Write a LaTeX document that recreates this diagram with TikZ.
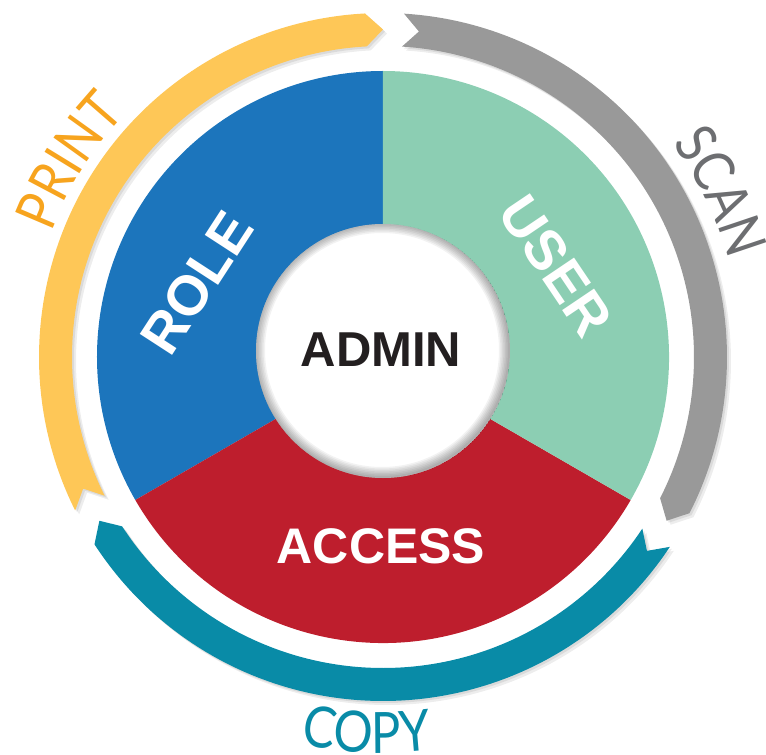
\documentclass[tikz,border=0pt]{standalone}
\usepackage{fontspec}
\setmainfont{Liberation Sans}
\IfFontExistsTF{Lato}
  {\newfontfamily\thinfont[FakeStretch=0.86]{Lato}}
  {\newfontfamily\thinfont[FakeStretch=0.82]{Liberation Sans}}
\usetikzlibrary{decorations.text}

\definecolor{roleblue}{RGB}{28,117,188}
\definecolor{usergreen}{RGB}{140,206,179}
\definecolor{accessred}{RGB}{190,30,45}
\definecolor{printyellow}{RGB}{254,199,87}
\definecolor{printorange}{RGB}{247,164,30}
\definecolor{scangray}{RGB}{153,153,153}
\definecolor{scantext}{RGB}{109,110,113}
\definecolor{copyteal}{RGB}{9,139,167}
\definecolor{admintext}{RGB}{35,31,32}

% ring arrow: options, tail angle, tip angle (clockwise)
\newcommand{\ringarrow}[3]{%
  \pgfmathsetmacro\headang{#3+3}%
  \pgfmathsetmacro\notchang{#2-2.8}%
  \fill[#1] (#2:344) arc[start angle=#2, end angle=\headang, radius=344]
    -- (#3:327.5) -- (\headang:311) arc[start angle=\headang, end angle=#2, radius=311]
    -- (\notchang:327.5) -- cycle;}

\tikzset{
  sector/.style={text=white, font=\bfseries\fontsize{56}{56}\selectfont, inner sep=0pt}
}

\begin{document}
\begin{tikzpicture}[x=1pt, y=1pt]
  \useasboundingbox (-383,-398) rectangle (383,357);

  \fill[roleblue] (0,0) -- (90:286) arc[start angle=90, end angle=210, radius=286] -- cycle;
  \fill[accessred] (0,0) -- (210:286) arc[start angle=210, end angle=330, radius=286] -- cycle;
  \fill[usergreen] (0,0) -- (-30:286) arc[start angle=-30, end angle=90, radius=286] -- cycle;

  \foreach \tail/\tip/\col in {206.5/90/printyellow, 86.5/-30/scangray, -33.5/-150/copyteal} {
    \ringarrow{black, opacity=0.07, xshift=4, yshift=-4}{\tail}{\tip}
    \ringarrow{black, opacity=0.08, xshift=2, yshift=-2}{\tail}{\tip}
    \ringarrow{\col}{\tail}{\tip}
  }

  \begin{scope}
    \clip (0,6) circle[radius=127];
    \fill[white] (0,6) circle[radius=127];
    \foreach \w in {2,5,...,20}
      \draw[black, opacity=0.05, line width=\w] (-1,7) circle[radius=127];
  \end{scope}

  \node[inner sep=0pt, text=admintext, font=\bfseries\fontsize{49}{49}\selectfont] (admin) at (-2,7) {ADMIN};
  \node[sector, rotate=57] (role) at (-186,74) {ROLE};
  \node[sector, rotate=-56] (user) at (173,91) {USER};
  \node[sector, font=\bfseries\fontsize{50}{50}\selectfont] (access) at (-2,-189) {ACCESS};

  \path[decorate, decoration={text along path, text align=center, text color=printorange,
    text={|\thinfont\fontsize{57}{57}\selectfont|PRINT}}]
    (174:354) arc[start angle=174, end angle=122, radius=354];
  \path[decorate, decoration={text along path, text align=center, text color=scantext,
    text={|\thinfont\fontsize{57}{57}\selectfont|SCAN}}]
    (52:359) arc[start angle=52, end angle=0, radius=359];
  \path[decorate, decoration={text along path, text align=center, text color=copyteal,
    text={|\thinfont\fontsize{57}{57}\selectfont|COPY}}]
    (-118.5:396) arc[start angle=-118.5, end angle=-66.5, radius=396];
\end{tikzpicture}
\end{document}
